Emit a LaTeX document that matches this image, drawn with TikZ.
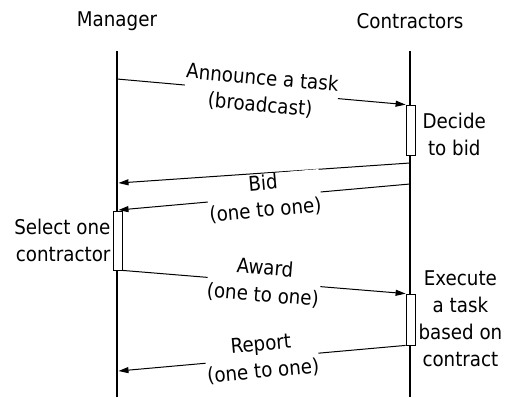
\documentclass[tikz,border=0pt]{standalone}
\usepackage{fontspec}
\setmainfont{DejaVu Sans Condensed}
\usetikzlibrary{positioning, arrows.meta}

\begin{document}
\begin{tikzpicture}[x=1pt, y=-1pt, node distance=10pt]
    \tikzstyle{every node}=[font=\fontsize{20.3}{27}\selectfont, inner sep=1pt]
    \tikzstyle{lifeline}=[line width=1.6pt]
    \tikzstyle{msg}=[line width=1pt, -{Triangle[length=10pt, width=6pt]}]
    \tikzstyle{msglabel}=[fill=white, align=center, sloped, midway, inner sep=0.5pt]
    \tikzstyle{activity}=[draw, fill=white, line width=0.8pt, minimum width=9pt, inner sep=0pt]
    \useasboundingbox (0,0) rectangle (510,397);

    % the two roles and their lifelines
    \node (manager)     at (117,21)  {Manager};
    \node (contractors) at (410,21)  {Contractors};
    \coordinate (manager top)     at (117,51);
    \coordinate (manager end)     at (117,397);
    \coordinate (contractor top)  at (410,51);
    \coordinate (contractor end)  at (410,397);
    \draw [lifeline] (manager top)    -- (manager end);
    \draw [lifeline] (contractor top) -- (contractor end);

    % activity boxes
    \node (decide)  [activity, minimum height=50pt] at (410.5,130)   {};
    \node (select)  [activity, minimum height=59pt] at (117.5,240.5) {};
    \node (execute) [activity, minimum height=51pt] at (410.5,319.5) {};
    \node (decide text)  [right=6pt of decide, yshift=-4pt, align=center] {Decide\\to bid};
    \node (select text)  [left=1pt of select, align=right]   {Select one\\contractor};
    \node (execute text) [right=2pt of execute, yshift=1pt, align=center] {Execute\\a task\\based on\\contract};

    % message ends
    \coordinate (announce start) at (117,79);
    \coordinate (bid one start)  at (410,163);
    \coordinate (bid one end)    at (118.5,183);
    \coordinate (bid two start)  at (410,184);
    \coordinate (bid two end)    at (118.5,210);
    \coordinate (report end)     at (118.5,371);

    \draw [msg] (announce start)   -- node[msglabel]{Announce a task\\(broadcast)} (decide.north west);
    \draw [msg] (bid one start)    -- (bid one end);
    \draw [msg] (bid two start)    -- node[msglabel]{Bid\\(one to one)} (bid two end);
    \draw [msg] (select.south east) -- node[msglabel]{Award\\(one to one)} (execute.north west);
    \draw [msg] (execute.south west) -- node[msglabel]{Report\\(one to one)} (report end);
\end{tikzpicture}
\end{document}
